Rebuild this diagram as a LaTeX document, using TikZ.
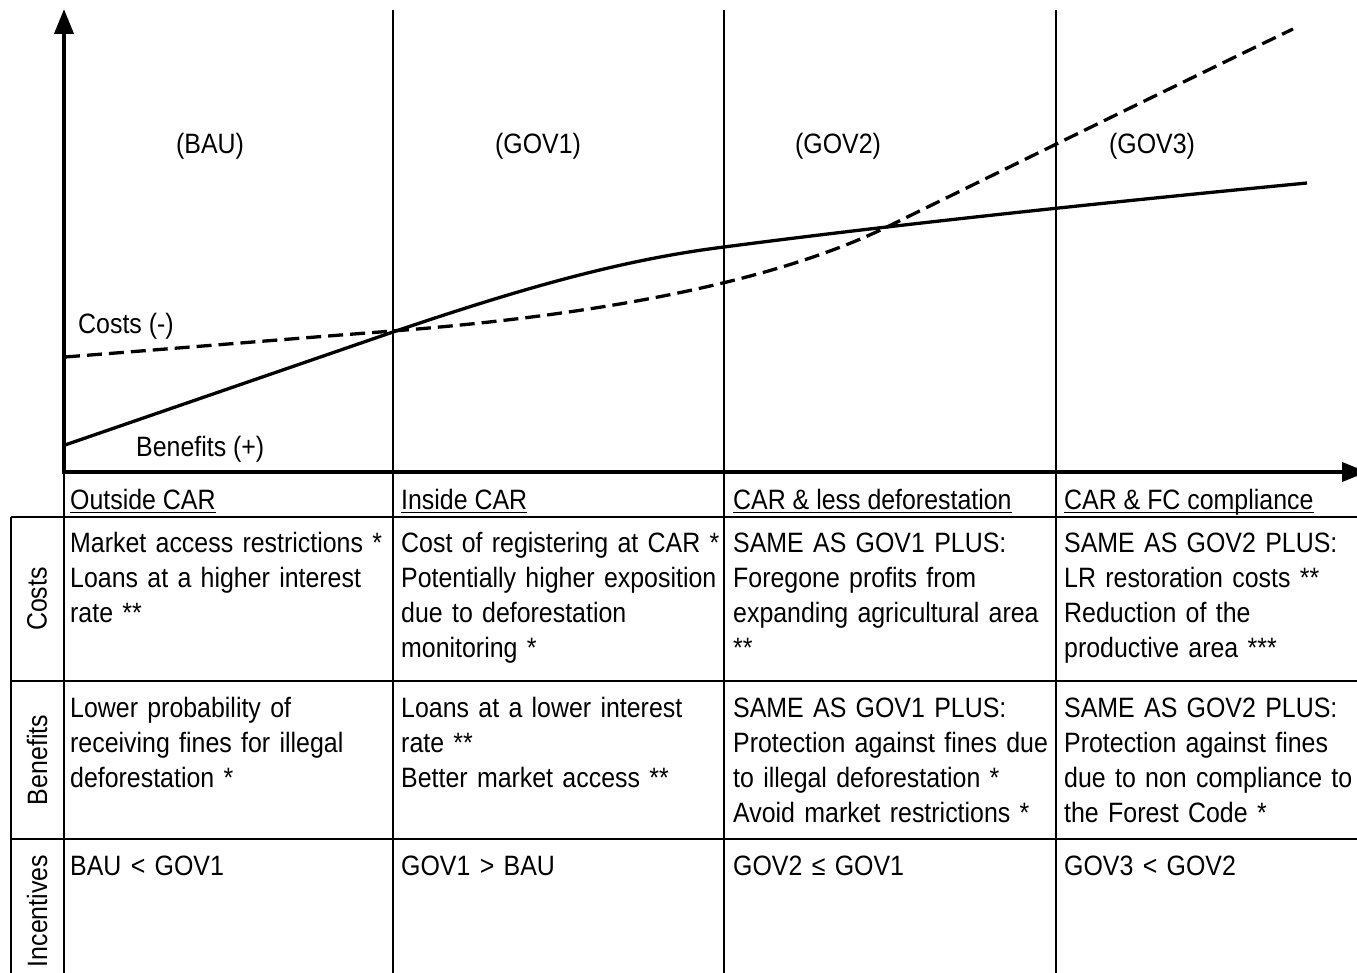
\documentclass[tikz,border=0pt]{standalone}
\usepackage{fontspec}
\setmainfont{Liberation Sans}[FakeStretch=0.89]
\usetikzlibrary{arrows.meta}

\begin{document}
\begin{tikzpicture}[x=1pt, y=-1pt, >={Triangle[length=25pt, width=19pt]}]
	\tikzstyle{every node}=[inner sep=0pt, font=\fontsize{28}{35}\selectfont]
	\tikzstyle{scenario}=[anchor=base]
	\tikzstyle{head}=[anchor=base west]
	\tikzstyle{cell}=[anchor=base west, text width=340pt, align=left]
	\tikzstyle{rowlabel}=[rotate=90]
	\tikzstyle{rule}=[line width=2.5pt]
	\tikzstyle{curve}=[line width=3.3pt, line join=round]
	\useasboundingbox (0,0) rectangle (1357,973);

	% axes
	\coordinate (ORIGIN) at (64,472);
	\coordinate (YTIP) at (64,9);
	\coordinate (XTIP) at (1367,472);
	\draw[line width=4pt, <->] (YTIP) |- (XTIP);

	% scenario separators and table
	\foreach \x in {393,724,1056}
		\draw[rule] (\x,10) -- (\x,973);
	\draw[rule] (ORIGIN) -- (64,973);
	\draw[rule] (11,517) -- (11,973);
	\foreach \y in {517,681,839}
		\draw[rule] (11,\y) -- (1357,\y);

	% benefits and costs
	\draw[curve] (65,445) -- (393,332) .. controls (520,289) and (620,260) .. (724,247)
		.. controls (900,224) and (1100,203) .. (1307,183);
	\draw[curve, dash pattern=on 15pt off 7pt] (65,357) .. controls (180,348) and (300,338) .. (393,331)
		.. controls (560,318) and (760,290) .. (891,225)
		.. controls (1030,157) and (1160,93) .. (1293,29);
	\node[anchor=base west] (COSTLBL) at (78,334) {Costs (-)};
	\node[anchor=base west] (BENLBL) at (136,456) {Benefits (+)};

	\node[scenario] (BAU) at (210,154) {(BAU)};
	\node[scenario] (GOVONE) at (538,154) {(GOV1)};
	\node[scenario] (GOVTWO) at (838,154) {(GOV2)};
	\node[scenario] (GOVTHREE) at (1152,154) {(GOV3)};

	% header row
	\node[head] (OUTSIDE) at (70,509) {Outside CAR};
	\node[head] (INSIDE) at (401,509) {Inside CAR};
	\node[head] (LESSDEF) at (733,509) {CAR \& less deforestation};
	\node[head] (FCCOMP) at (1064,509) {CAR \& FC compliance};
	\foreach \n in {OUTSIDE,INSIDE,LESSDEF,FCCOMP}
		\draw[line width=1.6pt] ([yshift=-3.5pt]\n.base west) -- ([yshift=-3.5pt]\n.base east);

	\node[rowlabel] (COSTS) at (37,599) {Costs};
	\node[rowlabel] (BENEFITS) at (37,760) {Benefits};
	\node[rowlabel] (INCENTIVES) at (37,911) {Incentives};

	% costs
	\node[cell] (COSTBAU) at (70,552) {Market access restrictions *\\Loans at a higher interest\\rate **};
	\node[cell] (COSTGOVONE) at (401,552) {Cost of registering at CAR *\\Potentially higher exposition\\due to deforestation\\monitoring *};
	\node[cell] (COSTGOVTWO) at (733,552) {SAME AS GOV1 PLUS:\\Foregone profits from\\expanding agricultural area\\{}**};
	\node[cell] (COSTGOVTHREE) at (1064,552) {SAME AS GOV2 PLUS:\\LR restoration costs **\\Reduction of the\\productive area ***};

	% benefits
	\node[cell] (BENBAU) at (70,717) {Lower probability of\\receiving fines for illegal\\deforestation *};
	\node[cell] (BENGOVONE) at (401,717) {Loans at a lower interest\\rate **\\Better market access **};
	\node[cell] (BENGOVTWO) at (733,717) {SAME AS GOV1 PLUS:\\Protection against fines due\\to illegal deforestation *\\Avoid market restrictions *};
	\node[cell] (BENGOVTHREE) at (1064,717) {SAME AS GOV2 PLUS:\\Protection against fines\\due to non compliance to\\the Forest Code *};

	% incentives
	\node[cell] (INCBAU) at (70,875) {BAU < GOV1};
	\node[cell] (INCGOVONE) at (401,875) {GOV1 > BAU};
	\node[cell] (INCGOVTWO) at (733,875) {GOV2 ≤ GOV1};
	\node[cell] (INCGOVTHREE) at (1064,875) {GOV3 < GOV2};
\end{tikzpicture}
\end{document}
